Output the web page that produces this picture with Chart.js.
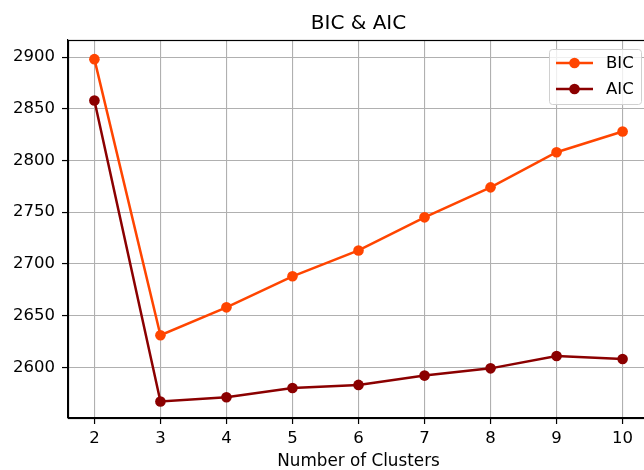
<!DOCTYPE html>
<html>
<head>
<meta charset="utf-8">
<script src="https://cdn.jsdelivr.net/npm/chart.js@4"></script>
<style>
  html, body { margin: 0; padding: 0; background: #fff; overflow: hidden; width: 644px; height: 470px; }
  #wrap { width: 660px; height: 470px; }
</style>
</head>
<body>
<div id="wrap"><canvas id="chart" width="660" height="470"></canvas></div>
<script>
const clusters = [2, 3, 4, 5, 6, 7, 8, 9, 10];
const bic = [2898, 2631, 2658, 2688, 2713, 2745, 2774, 2808, 2828];
const aic = [2858, 2567, 2571, 2580, 2583, 2592, 2599, 2611, 2608];
const yTicks = [2600, 2650, 2700, 2750, 2800, 2850, 2900];

const FONT = "'DejaVu Sans', sans-serif";
Chart.defaults.font.family = FONT;
Chart.defaults.color = '#000';

function toPoints(ys) {
    return clusters.map((x, i) => ({ x: x, y: ys[i] }));
}

// matplotlib style box round the axes, plus legend in the upper right
const framePlugin = {
    id: 'frame',
    afterDraw(chart) {
        const { ctx, chartArea: a } = chart;
        ctx.save();
        ctx.strokeStyle = '#000';
        ctx.lineWidth = 1.2;
        ctx.strokeRect(Math.round(a.left) + 0.5, Math.round(a.top) + 0.5,
            Math.round(a.right - a.left), Math.round(a.bottom - a.top));

        // legend
        const bx = 549, by = 49, bw = 92, bh = 55;
        ctx.beginPath();
        ctx.roundRect(bx + 0.5, by + 0.5, bw, bh, 3);
        ctx.fillStyle = 'rgba(255,255,255,0.8)';
        ctx.fill();
        ctx.lineWidth = 1;
        ctx.strokeStyle = '#d0d0d0';
        ctx.stroke();
        chart.data.datasets.forEach((ds, i) => {
            const y = 63 + i * 26;
            ctx.strokeStyle = ds.borderColor;
            ctx.lineWidth = 2.5;
            ctx.beginPath();
            ctx.moveTo(556, y);
            ctx.lineTo(593, y);
            ctx.stroke();
            ctx.fillStyle = ds.borderColor;
            ctx.beginPath();
            ctx.arc(574.5, y, 5.3, 0, Math.PI * 2);
            ctx.fill();
            ctx.fillStyle = '#000';
            ctx.font = '16.5px ' + FONT;
            ctx.textBaseline = 'middle';
            ctx.textAlign = 'left';
            ctx.fillText(ds.label, 606, y + 1);
        });
        ctx.restore();
    }
};

new Chart(document.getElementById('chart'), {
    type: 'line',
    data: {
        datasets: [
            {
                label: 'BIC',
                data: toPoints(bic),
                borderColor: '#ff4500',
                backgroundColor: '#ff4500',
                pointBackgroundColor: '#ff4500',
                borderWidth: 2.5,
                pointRadius: 5.3,
                pointBorderWidth: 0,
                order: 1
            },
            {
                label: 'AIC',
                data: toPoints(aic),
                borderColor: '#8b0000',
                backgroundColor: '#8b0000',
                pointBackgroundColor: '#8b0000',
                borderWidth: 2.5,
                pointRadius: 5.3,
                pointBorderWidth: 0,
                order: 0
            }
        ]
    },
    options: {
        responsive: false,
        animation: false,
        layout: { padding: { left: 0, right: 11, top: 0, bottom: 0 } },
        plugins: {
            legend: { display: false },
            tooltip: { enabled: false },
            title: {
                display: true,
                text: 'BIC & AIC',
                fullSize: false,
                font: { size: 20, weight: 'normal' },
                padding: { top: 12, bottom: 4 }
            }
        },
        scales: {
            x: {
                type: 'linear',
                min: 1.6,
                max: 10.4,
                afterBuildTicks: (axis) => { axis.ticks = clusters.map(v => ({ value: v })); },
                afterFit: (axis) => { axis.height = 52; },
                ticks: { font: { size: 16.5 }, padding: 5, maxRotation: 0, callback: (v) => String(v) },
                grid: { color: '#b0b0b0', lineWidth: 1.1, tickColor: '#000', tickLength: 6, tickWidth: 1.2 },
                border: { color: '#000', width: 1.2 },
                title: {
                    display: true,
                    text: 'Number of Clusters',
                    font: { size: 16.8, lineHeight: 1 },
                    padding: { top: 0, bottom: 0 }
                }
            },
            y: {
                type: 'linear',
                min: 2551,
                max: 2916.5,
                afterBuildTicks: (axis) => { axis.ticks = yTicks.map(v => ({ value: v })); },
                afterFit: (axis) => { axis.width = 68; },
                ticks: { font: { size: 16.5 }, padding: 7, callback: (v) => String(v) },
                grid: { color: '#b0b0b0', lineWidth: 1.1, tickColor: '#000', tickLength: 6, tickWidth: 1.2 },
                border: { color: '#000', width: 1.2 }
            }
        }
    },
    plugins: [framePlugin]
});
</script>
</body>
</html>
